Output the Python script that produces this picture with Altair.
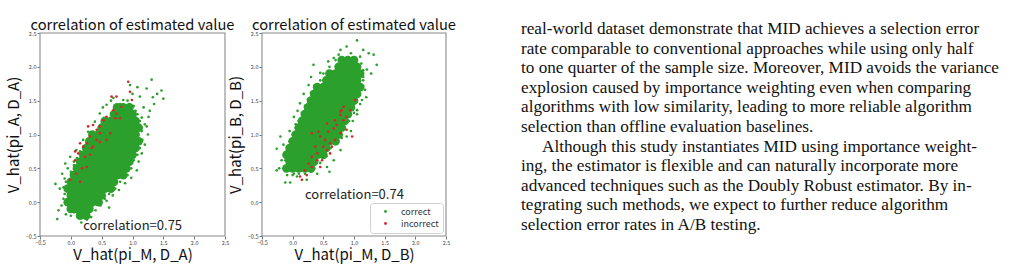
import altair as alt
import pandas as pd

W, H = 1010, 269
AX_MIN, AX_MAX = -0.5, 2.5
TICKS = [-0.5, 0.0, 0.5, 1.0, 1.5, 2.0, 2.5]
GREEN, RED = "#2ca02c", "#d62728"
SANS = "Noto Sans CJK JP"
SERIF = "Liberation Serif"
PANEL_TITLE = "correlation of estimated value"
CLASSES = ["correct", "incorrect"]

# ---------------- panel A (pi_A) ----------------
# dense core of the "correct" cloud, row by row (y: list of x)
a_core_rows = {
    -0.20: [0.15, 0.25],
    -0.10: [0.00, 0.10, 0.20, 0.30],
    0.00: [-0.05, 0.05, 0.15, 0.25, 0.35, 0.45],
    0.10: [0.00, 0.10, 0.20, 0.30, 0.40, 0.50],
    0.20: [-0.05, 0.05, 0.15, 0.25, 0.35, 0.45, 0.55, 0.65],
    0.30: [0.00, 0.10, 0.20, 0.30, 0.40, 0.50, 0.60, 0.70],
    0.40: [0.05, 0.15, 0.25, 0.35, 0.45, 0.55, 0.65, 0.75, 0.85],
    0.50: [0.10, 0.20, 0.30, 0.40, 0.50, 0.60, 0.70, 0.80, 0.90],
    0.60: [0.15, 0.25, 0.35, 0.45, 0.55, 0.65, 0.75, 0.85, 0.95],
    0.70: [0.20, 0.30, 0.40, 0.50, 0.60, 0.70, 0.80, 0.90, 1.00],
    0.80: [0.25, 0.35, 0.45, 0.55, 0.65, 0.75, 0.85, 0.95, 1.05],
    0.90: [0.30, 0.40, 0.50, 0.60, 0.70, 0.80, 0.90, 1.00, 1.10],
    1.00: [0.35, 0.45, 0.55, 0.65, 0.75, 0.85, 0.95, 1.05],
    1.10: [0.50, 0.60, 0.70, 0.80, 0.90, 1.00, 1.10],
    1.20: [0.55, 0.65, 0.75, 0.85, 0.95, 1.05],
    1.30: [0.70, 0.80, 0.90, 1.00],
    1.40: [0.75, 0.85, 0.95],
}
a_correct_x = [-0.25, -0.22, -0.20, -0.18, -0.15, -0.12, -0.10, -0.08, -0.05, 0.00,
               0.05, 0.12, 0.17, 0.22, 0.30, 0.40, 0.48, 0.58, 0.68, 0.78,
               0.88, 0.98, 1.07, 1.10, 1.15, 1.20, 1.25, 1.23, 1.26, 1.18,
               1.12, 1.23, 1.31, 1.47, 1.50, 0.96, 0.85, 0.69, 0.58, 0.47,
               0.39, 0.28, 0.20, 0.09, -0.01, -0.09, 1.05, 0.95, 1.15, 1.00,
               0.05, 1.35, 1.40, 0.62, 0.33, -0.14, 0.26, 1.08,
               0.00, 0.05, 0.10, 0.15, 0.55, 0.62, 0.72, 0.80, 0.92, 0.98,
               1.02, 1.08, 1.12, 1.16, 1.15, 1.12, 1.08, 1.02, 0.92, 0.80,
               -0.05, -0.10, 0.00, 0.10, 0.25, 0.35, 0.45, -0.12, -0.08, 1.20,
               1.28, 1.33, 0.65, 0.52]
a_correct_y = [0.27, -0.25, -0.12, 0.20, -0.05, 0.05, 0.35, -0.18, 0.50, -0.20,
               -0.15, -0.22, -0.30, -0.18, -0.15, -0.12, -0.05, 0.02, 0.10, 0.18,
               0.28, 0.36, 0.47, 0.60, 0.72, 0.85, 1.00, 1.12, 1.26, 1.40,
               1.56, 1.68, 1.81, 1.65, 1.53, 1.73, 1.51, 1.54, 1.44, 1.31,
               1.19, 1.04, 0.92, 0.77, 0.67, 0.57, 1.35, 1.45, 1.25, 1.60,
               0.60, 1.45, 1.60, -0.08, -0.22, 0.42, -0.26, 1.70,
               0.45, 0.55, 0.65, 0.75, 0.05, 0.12, 0.20, 0.30, 0.40, 0.50,
               0.62, 0.70, 0.80, 0.92, 1.05, 1.20, 1.30, 1.42, 1.50, 1.45,
               0.00, 0.12, -0.10, -0.15, -0.10, -0.05, -0.03, 0.22, 0.30, 1.15,
               1.35, 1.55, 1.50, 1.40]
a_incorrect_x = [0.66, 0.74, 0.96, 0.99, 0.93, 0.69, 0.72, 0.58, 0.47, 0.42,
                 0.31, 0.26, 0.20, 0.12, 0.07, 0.15, -0.01, 0.64, 0.58, 0.47,
                 0.36, 0.31, 0.23, 0.26, 0.47, 0.74, 0.80, 0.82, 0.53, 0.42,
                 0.18, 0.09, 0.34, 0.28, 0.36, 0.15, 0.07]
a_incorrect_y = [1.56, 1.56, 1.63, 1.51, 1.78, 1.36, 1.24, 1.26, 1.12, 1.07,
                 0.97, 0.87, 0.82, 0.72, 0.62, 0.30, 0.33, 1.02, 0.92, 0.89,
                 0.82, 0.70, 0.67, 0.52, 1.02, 1.31, 1.24, 1.41, 1.21, 0.92,
                 0.50, 0.42, 0.80, 1.12, 1.14, 0.87, 0.75]
a_xlabel = "V_hat(pi_M, D_A)"
a_ylabel = "V_hat(pi_A, D_A)"
a_corr_label = ["correlation=0.75"]
a_corr_x = [0.2]
a_corr_y = [-0.35]

# ---------------- panel B (pi_B) ----------------
b_core_rows = {
    0.50: [-0.10, 0.00, 0.10, 0.20, 0.30],
    0.60: [-0.05, 0.05, 0.15, 0.25, 0.35],
    0.70: [-0.10, 0.00, 0.10, 0.20, 0.30, 0.40, 0.50],
    0.80: [-0.05, 0.05, 0.15, 0.25, 0.35, 0.45, 0.55],
    0.90: [0.00, 0.10, 0.20, 0.30, 0.40, 0.50, 0.60, 0.70],
    1.00: [0.05, 0.15, 0.25, 0.35, 0.45, 0.55, 0.65, 0.75],
    1.10: [0.10, 0.20, 0.30, 0.40, 0.50, 0.60, 0.70, 0.80],
    1.20: [0.15, 0.25, 0.35, 0.45, 0.55, 0.65, 0.75, 0.85],
    1.30: [0.20, 0.30, 0.40, 0.50, 0.60, 0.70, 0.80, 0.90],
    1.40: [0.25, 0.35, 0.45, 0.55, 0.65, 0.75, 0.85, 0.95],
    1.50: [0.30, 0.40, 0.50, 0.60, 0.70, 0.80, 0.90, 1.00],
    1.60: [0.35, 0.45, 0.55, 0.65, 0.75, 0.85, 0.95, 1.05],
    1.70: [0.40, 0.50, 0.60, 0.70, 0.80, 0.90, 1.00, 1.10],
    1.80: [0.55, 0.65, 0.75, 0.85, 0.95, 1.05],
    1.90: [0.60, 0.70, 0.80, 0.90, 1.00, 1.10],
    2.00: [0.75, 0.85, 0.95, 1.05],
    2.10: [0.80, 0.90, 1.00],
}
b_correct_x = [-0.26, -0.22, -0.26, -0.20, -0.15, -0.12, -0.04, -0.09, 0.02, 0.07,
               0.23, 0.02, 0.12, 0.26, 0.34, 0.45, 0.58, 0.67, 0.78, 0.88,
               1.05, 1.15, 1.24, 1.32, 1.37, 1.21, 1.18, 1.13, 1.05, 0.98,
               0.88, 0.78, 0.67, 0.56, 0.40, -0.05, 0.05, -0.10, 1.15, 1.20,
               0.95, 0.60, -0.18, 0.18, 0.30, 1.28, 0.08,
               -0.12, -0.10, -0.05, 0.00, 0.05, 0.10, 0.15, 0.20, 0.25, 0.30,
               0.35, 0.45, 0.50, 0.60, 0.70, 0.75, 0.95, 1.10, 1.12, 1.15,
               1.15, 1.15, 1.10, 1.05, 0.35, 0.45, 0.55, 0.62, 0.70, 0.80,
               0.85, 0.92, 1.00, 0.00, 0.10, 0.20, -0.15, 0.30]
b_correct_y = [0.47, 0.50, 0.79, 0.97, 0.85, 0.29, 0.29, 0.40, 0.42, 0.38,
               0.33, 1.26, 1.46, 1.73, 2.03, 1.91, 2.08, 2.13, 2.25, 2.30,
               2.39, 2.25, 2.20, 2.18, 2.03, 1.96, 1.66, 1.51, 1.36, 1.20,
               0.97, 0.77, 0.62, 0.52, 0.42, 1.05, 1.15, 0.65, 1.80, 1.55,
               1.05, 0.45, 0.62, 1.60, 1.85, 1.90, 1.35,
               0.62, 0.75, 0.90, 1.00, 1.10, 1.20, 1.32, 1.42, 1.52, 1.62,
               1.72, 1.80, 1.90, 2.00, 2.10, 2.18, 2.20, 2.15, 2.05, 1.95,
               1.85, 1.72, 1.45, 1.30, 0.50, 0.58, 0.68, 0.80, 0.88, 0.95,
               1.10, 1.20, 1.32, 0.40, 0.42, 0.42, 0.50, 0.45]
b_incorrect_x = [0.15, 0.20, 0.26, 0.31, 0.40, 0.48, 0.56, 0.53, 0.61, 0.69,
                 0.78, 0.67, 0.58, 0.45, 0.37, 0.42, 0.31, 0.83, 0.88, 0.78,
                 0.94, 1.02, 0.83, 0.97, 0.78, 0.72, 0.50, 0.61, 0.45, 0.31,
                 0.23, 0.64, 0.88, 0.80, 0.69, 0.56, 0.40, 0.12]
b_incorrect_y = [0.33, 0.47, 0.57, 0.67, 0.72, 0.62, 0.77, 0.92, 0.87, 0.92,
                 1.02, 1.09, 1.04, 0.97, 0.82, 1.04, 1.02, 1.21, 1.26, 1.29,
                 1.36, 1.51, 1.41, 0.97, 1.34, 1.14, 0.82, 0.72, 0.52, 0.52,
                 0.40, 0.82, 1.07, 1.36, 1.21, 1.16, 0.62, 0.38]
b_xlabel = "V_hat(pi_M, D_B)"
b_ylabel = "V_hat(pi_B, D_B)"
b_corr_label = ["correlation=0.74"]
b_corr_x = [0.2]
b_corr_y = [0.1]

# ---------------- body text ----------------
TEXT_LINES = [
    "real-world dataset demonstrate that MID achieves a selection error",
    "rate comparable to conventional approaches while using only half",
    "to one quarter of the sample size. Moreover, MID avoids the variance",
    "explosion caused by importance weighting even when comparing",
    "algorithms with low similarity, leading to more reliable algorithm",
    "selection than offline evaluation baselines.",
    "Although this study instantiates MID using importance weight-",
    "ing, the estimator is flexible and can naturally incorporate more",
    "advanced techniques such as the Doubly Robust estimator. By in-",
    "tegrating such methods, we expect to further reduce algorithm",
    "selection error rates in A/B testing.",
]
TEXT_INDENT = [0, 0, 0, 0, 0, 0, 1, 0, 0, 0, 0]  # paragraph start


def rows_to_df(rows):
    xs, ys = [], []
    for yv, xlist in rows.items():
        for xv in xlist:
            xs.append(xv)
            ys.append(yv)
    return pd.DataFrame({"x": xs, "y": ys})


def panel(core_rows, cx, cy, ix, iy, xlabel, ylabel, corr_lab, corr_x, corr_y,
          x_px, y_px, show_legend):
    xaxis = alt.Axis(values=TICKS, format=".1f", orient="bottom", offset=-(H - y_px[0]),
                     grid=False, domain=False, tickSize=3, tickColor="#555", tickWidth=0.8,
                     labelFontSize=5.5, labelColor="#444", labelFont=SANS, labelPadding=1,
                     labelFlush=False, labelOverlap=False,
                     title=xlabel, titleFont=SANS, titleFontSize=15, titleFontWeight="normal",
                     titleColor="#111", titlePadding=2)
    yaxis = alt.Axis(values=TICKS, format=".1f", orient="left", offset=-x_px[0],
                     grid=False, domain=False, tickSize=3, tickColor="#555", tickWidth=0.8,
                     labelFontSize=5.5, labelColor="#444", labelFont=SANS, labelPadding=1,
                     labelFlush=False, labelOverlap=False,
                     title=ylabel, titleFont=SANS, titleFontSize=15, titleFontWeight="normal",
                     titleColor="#111", titlePadding=4)
    xs = alt.Scale(domain=[AX_MIN, AX_MAX], range=list(x_px), nice=False, zero=False)
    ys = alt.Scale(domain=[AX_MIN, AX_MAX], range=list(y_px), nice=False, zero=False)

    def X(f="x"):
        return alt.X(f + ":Q", scale=xs, axis=xaxis)

    def Y(f="y"):
        return alt.Y(f + ":Q", scale=ys, axis=yaxis)

    frame_df = pd.DataFrame({"x": [AX_MIN], "x2": [AX_MAX], "y": [AX_MIN], "y2": [AX_MAX]})
    frame = alt.Chart(frame_df).mark_rect(fill="white", stroke="#8a8a8a", strokeWidth=1.1).encode(
        x=X(), x2="x2", y=Y(), y2="y2")

    core = alt.Chart(rows_to_df(core_rows)).mark_circle(size=76, color=GREEN, opacity=1).encode(
        x=X(), y=Y())

    pts_df = pd.concat([
        pd.DataFrame({"x": cx, "y": cy, "label": CLASSES[0]}),
        pd.DataFrame({"x": ix, "y": iy, "label": CLASSES[1]}),
    ], ignore_index=True)
    if show_legend:
        legend = alt.Legend(title=None, orient="none", legendX=370, legendY=203,
                            fillColor="white", strokeColor="#d0d0d0", cornerRadius=3,
                            padding=4, labelFont=SANS, labelFontSize=9, labelColor="#333",
                            symbolType="circle", symbolSize=8, symbolStrokeWidth=0,
                            symbolOffset=7, labelOffset=11, rowPadding=2)
    else:
        legend = None
    color = alt.Color("label:N", scale=alt.Scale(domain=CLASSES, range=[GREEN, RED]),
                      legend=legend)
    pts = alt.Chart(pts_df).mark_circle(size=7, opacity=1).encode(x=X(), y=Y(), color=color)

    title_df = pd.DataFrame({"x": [(AX_MIN + AX_MAX) / 2], "y": [AX_MAX], "t": [PANEL_TITLE]})
    title = alt.Chart(title_df).mark_text(font=SANS, fontSize=14.7, color="#111",
                                          baseline="alphabetic", dy=-3).encode(
        x=X(), y=Y(), text="t:N")

    corr_df = pd.DataFrame({"x": corr_x, "y": corr_y, "t": corr_lab})
    corr = alt.Chart(corr_df).mark_text(font=SANS, fontSize=13, color="#222",
                                        align="left", baseline="middle").encode(
        x=X(), y=Y(), text="t:N")

    return alt.layer(frame, core, pts, title, corr)


panel_a = panel(a_core_rows, a_correct_x, a_correct_y, a_incorrect_x, a_incorrect_y,
                a_xlabel, a_ylabel, a_corr_label, a_corr_x, a_corr_y,
                (40, 225), (236, 33), False)
panel_b = panel(b_core_rows, b_correct_x, b_correct_y, b_incorrect_x, b_incorrect_y,
                b_xlabel, b_ylabel, b_corr_label, b_corr_x, b_corr_y,
                (262, 446), (236, 33), True)

text_df = pd.DataFrame({"line": list(range(len(TEXT_LINES))), "text": TEXT_LINES,
                        "indent": TEXT_INDENT})
body = alt.Chart(text_df).mark_text(align="left", baseline="alphabetic", font=SERIF,
                                    fontSize=17.2, color="#111").encode(
    x=alt.X("indent:Q", scale=alt.Scale(domain=[0, 1], range=[521, 542], nice=False,
                                        zero=False), axis=None),
    y=alt.Y("line:Q", scale=alt.Scale(domain=[0, len(TEXT_LINES) - 1], range=[34, 230],
                                      nice=False, zero=False), axis=None),
    text="text:N")

chart = alt.layer(panel_a, panel_b, body).resolve_scale(
    x="independent", y="independent", color="independent"
).resolve_axis(x="independent", y="independent").resolve_legend(color="independent").properties(
    width=W, height=H, autosize=alt.AutoSizeParams(type="none"), padding=0,
    background="white"
).configure_view(stroke=None)

chart.save("out.html", embed_options={"renderer": "svg", "actions": False})
